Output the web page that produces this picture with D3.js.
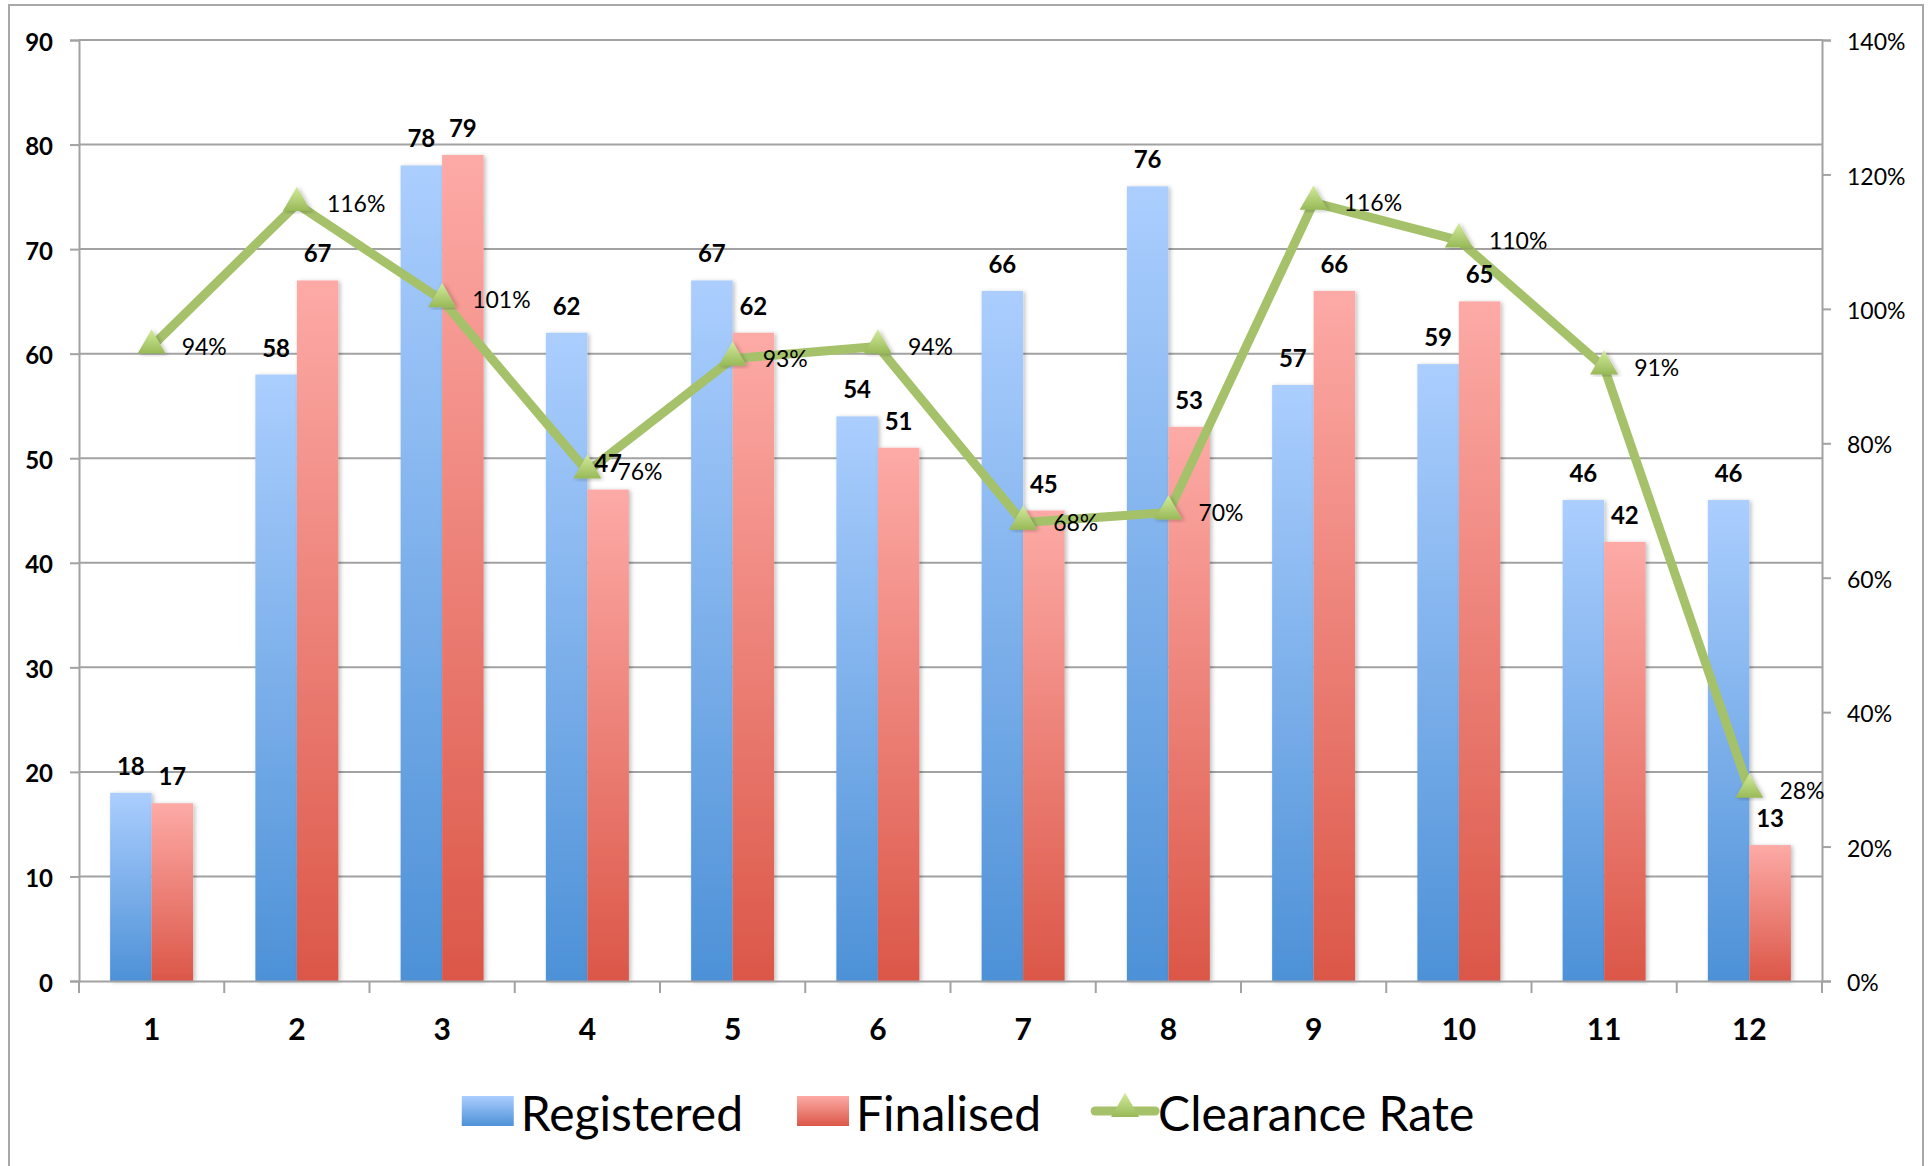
<!DOCTYPE html>
<html>
<head>
<meta charset="utf-8">
<script src="https://cdn.jsdelivr.net/npm/d3@7"></script>
<style>
  html, body { margin: 0; padding: 0; background: #fff; }
  svg { display: block; }
  text { font-family: Lato, "Open Sans", sans-serif; fill: #000; }
</style>
</head>
<body>
<svg id="chart" width="1930" height="1166"></svg>
<script>
const categories = ["1","2","3","4","5","6","7","8","9","10","11","12"];
const registered = [18, 58, 78, 62, 67, 54, 66, 76, 57, 59, 46, 46];
const finalised  = [17, 67, 79, 47, 62, 51, 45, 53, 66, 65, 42, 13];
const clearanceRate = [0.944, 1.156, 1.013, 0.758, 0.926, 0.944, 0.682, 0.697, 1.158, 1.102, 0.913, 0.283];
const leftTicks  = [0, 10, 20, 30, 40, 50, 60, 70, 80, 90];
const rightTicks = [0, 0.2, 0.4, 0.6, 0.8, 1.0, 1.2, 1.4];
const seriesNames = ["Registered", "Finalised", "Clearance Rate"];

const svg = d3.select("#chart");
const plot = { left: 79, right: 1822, top: 40, bottom: 981 };
const gridColor = "#a2a2a2";

// defs
const defs = svg.append("defs");
function vGrad(id, top, bottom) {
  const g = defs.append("linearGradient").attr("id", id)
    .attr("x1", 0).attr("y1", 0).attr("x2", 0).attr("y2", 1);
  g.append("stop").attr("offset", "0%").attr("stop-color", top);
  g.append("stop").attr("offset", "100%").attr("stop-color", bottom);
}
vGrad("gBlue", "#abcefe", "#4d91d7");
vGrad("gRed", "#fdaaa6", "#db5748");
vGrad("gTri", "#d2eb9c", "#98b957");
const sh = defs.append("filter").attr("id", "shadow")
  .attr("x", "-20%").attr("y", "-5%").attr("width", "150%").attr("height", "115%");
sh.append("feDropShadow").attr("dx", 2).attr("dy", 1).attr("stdDeviation", 2)
  .attr("flood-color", "#000").attr("flood-opacity", 0.25);

// outer border
svg.append("rect").attr("x", 9).attr("y", 5).attr("width", 1914).attr("height", 1170)
  .attr("fill", "#fff").attr("stroke", "#a8a8a8").attr("stroke-width", 2);

// scales
const x = d3.scaleBand().domain(categories).range([plot.left, plot.right]).paddingInner(0).paddingOuter(0);
const barW = x.bandwidth() / 3.5;
const xSub = d3.scaleBand().domain(["r", "f"]).range([0, barW * 2]);
const yL = d3.scaleLinear().domain([0, 90]).range([plot.bottom, plot.top]);
const yR = d3.scaleLinear().domain([0, 1.4]).range([plot.bottom, plot.top]);

// gridlines
svg.append("g").selectAll("line").data(leftTicks.filter(d => d > 0)).join("line")
  .attr("x1", plot.left).attr("x2", plot.right)
  .attr("y1", d => yL(d)).attr("y2", d => yL(d))
  .attr("stroke", gridColor).attr("stroke-width", 2);

// left axis
const gL = svg.append("g").attr("transform", `translate(${plot.left},0)`)
  .call(d3.axisLeft(yL).tickValues(leftTicks).tickSize(9).tickPadding(17).tickFormat(d3.format("d")));
gL.select(".domain").attr("stroke", gridColor).attr("stroke-width", 2);
gL.selectAll(".tick line").attr("stroke", gridColor).attr("stroke-width", 2);
gL.selectAll(".tick text").style("font-family", "Lato").style("font-weight", "bold")
  .style("font-size", "24px").attr("fill", "#000").attr("dy", "0.42em");

// right axis
const gR = svg.append("g").attr("transform", `translate(${plot.right},0)`)
  .call(d3.axisRight(yR).tickValues(rightTicks).tickSize(9).tickPadding(16).tickFormat(d3.format(".0%")));
gR.select(".domain").attr("stroke", gridColor).attr("stroke-width", 2);
gR.selectAll(".tick line").attr("stroke", gridColor).attr("stroke-width", 2);
gR.selectAll(".tick text").style("font-family", "Lato").style("font-size", "23px")
  .attr("fill", "#000").attr("dy", "0.42em");

// bars
const groups = svg.append("g").selectAll("g").data(categories).join("g")
  .attr("transform", d => `translate(${x(d) + (x.bandwidth() - barW * 2) / 2},0)`);
groups.append("rect")
  .attr("x", 0).attr("width", xSub.bandwidth())
  .attr("y", (d, i) => yL(registered[i])).attr("height", (d, i) => yL(0) - yL(registered[i]))
  .attr("fill", "url(#gBlue)").attr("filter", "url(#shadow)");
groups.append("rect")
  .attr("x", xSub("f")).attr("width", xSub.bandwidth())
  .attr("y", (d, i) => yL(finalised[i])).attr("height", (d, i) => yL(0) - yL(finalised[i]))
  .attr("fill", "url(#gRed)").attr("filter", "url(#shadow)");

// bottom axis
const gB = svg.append("g").attr("transform", `translate(0,${plot.bottom})`)
  .call(d3.axisBottom(x).tickSize(0).tickPadding(38));
gB.select(".domain").attr("stroke", gridColor).attr("stroke-width", 2);
gB.selectAll(".tick text").style("font-family", "Lato").style("font-weight", "bold")
  .style("font-size", "30px").attr("fill", "#000");
svg.append("g").selectAll("line").data(d3.range(categories.length + 1)).join("line")
  .attr("x1", i => plot.left + i * x.step()).attr("x2", i => plot.left + i * x.step())
  .attr("y1", plot.bottom).attr("y2", plot.bottom + 12)
  .attr("stroke", gridColor).attr("stroke-width", 2);

// line
const cx = (d, i) => x(categories[i]) + x.bandwidth() / 2;
const line = d3.line().x((d, i) => cx(d, i)).y(d => yR(d));
svg.append("path").datum(clearanceRate).attr("d", line)
  .attr("fill", "none").attr("stroke", "#a5c26a").attr("stroke-width", 9)
  .attr("stroke-linejoin", "miter");
const tri = d3.symbol(d3.symbolTriangle, 340);
svg.append("g").selectAll("path").data(clearanceRate).join("path")
  .attr("d", tri)
  .attr("transform", (d, i) => `translate(${cx(d, i)},${yR(d) - 1})`)
  .attr("fill", "url(#gTri)").attr("filter", "url(#shadow)");

// bar labels (drawn above the line)
const lblG = svg.append("g").selectAll("g").data(categories).join("g")
  .attr("transform", d => `translate(${x(d) + (x.bandwidth() - barW * 2) / 2},0)`);
lblG.append("text")
  .attr("x", xSub("r") + xSub.bandwidth() / 2).attr("y", (d, i) => yL(registered[i]) - 18)
  .attr("text-anchor", "middle").style("font-weight", "bold").style("font-size", "24px")
  .text((d, i) => registered[i]);
lblG.append("text")
  .attr("x", xSub("f") + xSub.bandwidth() / 2).attr("y", (d, i) => yL(finalised[i]) - 18)
  .attr("text-anchor", "middle").style("font-weight", "bold").style("font-size", "24px")
  .text((d, i) => finalised[i]);

// percentage labels
svg.append("g").selectAll("text").data(clearanceRate).join("text")
  .attr("x", (d, i) => cx(d, i) + 30).attr("y", d => yR(d))
  .attr("dy", "0.36em").style("font-size", "23px")
  .text(d => d3.format(".0%")(d));

// legend
const leg = svg.append("g");
const legFont = 48;
let cur = 0;
seriesNames.forEach((name, k) => {
  const g = leg.append("g").attr("transform", `translate(${cur},0)`);
  const symW = k === 2 ? 60 : 52;
  if (k < 2) {
    g.append("rect").attr("x", 0).attr("y", -35).attr("width", 52).attr("height", 30)
      .attr("fill", k === 0 ? "url(#gBlue)" : "url(#gRed)");
  } else {
    g.append("line").attr("x1", 0).attr("x2", 60).attr("y1", -20).attr("y2", -20)
      .attr("stroke", "#a5c26a").attr("stroke-width", 9).attr("stroke-linecap", "round");
    g.append("path").attr("d", tri).attr("transform", "translate(30,-22)").attr("fill", "url(#gTri)");
  }
  const gap = k === 2 ? 3 : 7;
  const t = g.append("text").attr("x", symW + gap).attr("y", 0)
    .style("font-size", legFont + "px").text(name);
  const tw = t.node().getComputedTextLength();
  cur += symW + gap + tw + 54;
});
const totalW = cur - 54;
leg.attr("transform", `translate(${968 - totalW / 2},1131)`);
</script>
</body>
</html>
